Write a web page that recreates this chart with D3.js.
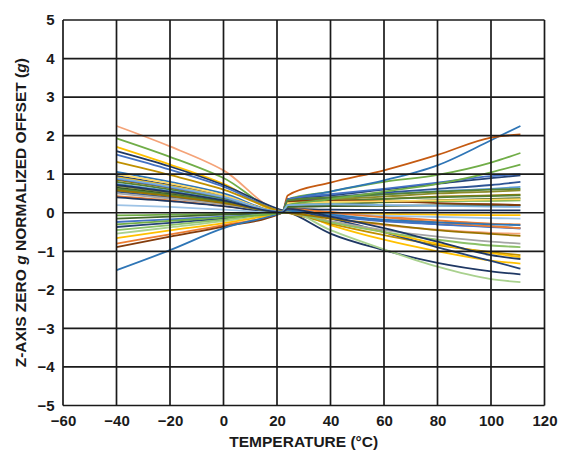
<!DOCTYPE html>
<html>
<head>
<meta charset="utf-8">
<script src="https://cdn.jsdelivr.net/npm/d3@7"></script>
<style>
  html, body { margin: 0; padding: 0; background: #fff; }
  svg { display: block; }
  text { font-family: "Liberation Sans", Arial, sans-serif; font-weight: bold; fill: #1a1a1a; }
</style>
</head>
<body>
<svg id="chart" width="568" height="454"></svg>
<script>
// Temperature sample points (°C) shared by every device trace.
// The cold sweep ends just below 22 °C; the hot sweep restarts near 24 °C.
const temps = [-40, -20, 0, 22, 24, 40, 60, 80, 100, 111];

// Axis ticks
const xTicks = [-60, -40, -20, 0, 20, 40, 60, 80, 100, 120];
const yTicks = [-5, -4, -3, -2, -1, 0, 1, 2, 3, 4, 5];

// Trace colours, one per device
const colors = [
  "#F4A378", "#70AD47", "#FFC000", "#1F3864", "#4472C4", "#BF9000",
  "#2E75B6", "#264478", "#FFC000", "#997300", "#548235", "#5B9BD5",
  "#8C8C2A", "#385723", "#C55A11", "#2F5597", "#ED7D31", "#203864",
  "#9DC3E6", "#70AD47", "#43682B", "#4472C4", "#264478", "#A9D18E",
  "#FFC000", "#ED7D31", "#843C0C", "#2E75B6", "#A5A5A5", "#8CC168",
  "#FFD966", "#4472C4", "#548235", "#997300", "#70AD47", "#7CAFDD",
  "#1F3864"
];

// Normalized zero-g offset (g) for each device at the temps above
const offsets = [
  [ 2.25,  1.72,  1.10, 0.06, 0.10, -0.15, -0.32, -0.44, -0.52, -0.54],
  [ 1.93,  1.45,  0.90, 0.05, 0.35,  0.55,  0.80,  0.98,  1.30,  1.55],
  [ 1.71,  1.25,  0.75, 0.04, 0.05, -0.32, -0.70, -1.00, -1.24, -1.32],
  [ 1.60,  1.20,  0.72, 0.06, 0.02, -0.54, -0.97, -1.30, -1.52, -1.60],
  [ 1.51,  1.12,  0.68, 0.04, 0.02, -0.10, -0.22, -0.30, -0.37, -0.41],
  [ 1.32,  0.98,  0.60, 0.03, 0.00, -0.28, -0.58, -0.84, -1.02, -1.10],
  [ 1.06,  0.80,  0.50, 0.02, 0.30,  0.55,  0.84,  1.23,  1.88,  2.25],
  [ 0.96,  0.72,  0.45, 0.02, 0.35,  0.45,  0.60,  0.75,  0.90,  0.97],
  [ 0.92,  0.70,  0.42, 0.02, 0.05,  0.00, -0.03, -0.05, -0.06, -0.06],
  [ 0.85,  0.64,  0.38, 0.02, 0.20,  0.30,  0.36,  0.42,  0.45,  0.47],
  [ 0.80,  0.60,  0.36, 0.02, 0.25,  0.30,  0.36,  0.40,  0.43,  0.45],
  [ 0.75,  0.56,  0.33, 0.01, 0.30,  0.38,  0.48,  0.56,  0.62,  0.67],
  [ 0.70,  0.52,  0.30, 0.01, 0.28,  0.35,  0.42,  0.50,  0.55,  0.58],
  [ 0.65,  0.48,  0.28, 0.01, 0.15,  0.17,  0.18,  0.19,  0.20,  0.20],
  [ 0.60,  0.45,  0.26, 0.01, 0.45,  0.78,  1.10,  1.50,  1.95,  2.03],
  [ 0.55,  0.40,  0.24, 0.01, 0.30,  0.40,  0.52,  0.62,  0.72,  0.80],
  [ 0.43,  0.32,  0.18, 0.01, 0.10,  0.02, -0.10, -0.20, -0.28, -0.30],
  [ 0.40,  0.30,  0.17, 0.01, 0.10,  0.08,  0.07,  0.06,  0.06,  0.06],
  [ 0.20,  0.15,  0.08, 0.00, 0.05, -0.03, -0.08, -0.11, -0.14, -0.15],
  [-0.07, -0.05, -0.03, 0.00, 0.20,  0.24,  0.27,  0.30,  0.31,  0.32],
  [-0.15, -0.10, -0.05, 0.00, 0.15,  0.20,  0.28,  0.33,  0.36,  0.38],
  [-0.24, -0.17, -0.10, 0.00, 0.05, -0.08, -0.20, -0.30, -0.36, -0.40],
  [-0.37, -0.26, -0.15, 0.00, 0.05, -0.15, -0.50, -0.90, -1.25, -1.45],
  [-0.54, -0.38, -0.22, 0.00, 0.02, -0.45, -0.95, -1.40, -1.72, -1.80],
  [-0.66, -0.46, -0.27, 0.00, 0.03, -0.22, -0.50, -0.80, -1.05, -1.15],
  [-0.80, -0.56, -0.32, 0.00, 0.10,  0.00, -0.12, -0.25, -0.35, -0.40],
  [-0.89, -0.62, -0.36, 0.00, 0.30,  0.32,  0.30,  0.25,  0.22,  0.20],
  [-1.49, -0.97, -0.40, 0.00, 0.05, -0.05, -0.18, -0.25, -0.30, -0.32],
  [ 0.50,  0.37,  0.22, 0.01, 0.00, -0.22, -0.45, -0.62, -0.75, -0.80],
  [-0.45, -0.32, -0.18, 0.00, 0.00, -0.25, -0.50, -0.70, -0.85, -0.89],
  [ 1.00,  0.76,  0.46, 0.02, 0.25,  0.28,  0.30,  0.32,  0.34,  0.35],
  [ 0.88,  0.66,  0.40, 0.02, 0.35,  0.48,  0.62,  0.78,  0.95,  1.00],
  [ 0.62,  0.46,  0.27, 0.01, 0.32,  0.40,  0.48,  0.55,  0.60,  0.62],
  [ 0.58,  0.43,  0.25, 0.01, 0.00, -0.15, -0.30, -0.45, -0.55, -0.60],
  [-0.30, -0.21, -0.12, 0.00, 0.20,  0.35,  0.55,  0.75,  1.05,  1.25],
  [ 0.90,  0.68,  0.41, 0.02, 0.20,  0.22,  0.20,  0.18,  0.16,  0.15],
  [ 0.72,  0.54,  0.32, 0.01, 0.10, -0.10, -0.40, -0.75, -1.10, -1.20]
];

const svg = d3.select("#chart");
const margin = { left: 63, top: 20, right: 23.5, bottom: 48.5 };
const W = 568 - margin.left - margin.right;
const H = 454 - margin.top - margin.bottom;

const x = d3.scaleLinear().domain([-60, 120]).range([0, W]);
const y = d3.scaleLinear().domain([-5, 5]).range([H, 0]);

const g = svg.append("g").attr("transform", `translate(${margin.left},${margin.top})`);

// Device traces
const line = d3.line()
  .x((d, i) => x(temps[i]))
  .y(d => y(d))
  .curve(d3.curveMonotoneX);

g.append("g").attr("class", "traces")
  .selectAll("path")
  .data(offsets)
  .join("path")
  .attr("d", line)
  .attr("fill", "none")
  .attr("stroke", (d, i) => colors[i % colors.length])
  .attr("stroke-width", 1.8)
  .attr("stroke-linejoin", "round");

// Grid drawn over the traces
const gridColor = "#1a1a1a";
g.append("g").attr("class", "grid-x")
  .selectAll("line").data(xTicks).join("line")
  .attr("x1", d => x(d)).attr("x2", d => x(d))
  .attr("y1", 0).attr("y2", H)
  .attr("stroke", gridColor).attr("stroke-width", 1.7);
g.append("g").attr("class", "grid-y")
  .selectAll("line").data(yTicks).join("line")
  .attr("x1", 0).attr("x2", W)
  .attr("y1", d => y(d)).attr("y2", d => y(d))
  .attr("stroke", gridColor).attr("stroke-width", 1.7);

// Axes (labels only; the grid frames the plot)
const fmt = d => d < 0 ? "\u2212" + Math.abs(d) : String(d);
const xAxis = g.append("g").attr("transform", `translate(0,${H})`)
  .call(d3.axisBottom(x).tickValues(xTicks).tickFormat(fmt).tickSize(0).tickPadding(10));
const yAxis = g.append("g")
  .call(d3.axisLeft(y).tickValues(yTicks).tickFormat(fmt).tickSize(0).tickPadding(8.5));
[xAxis, yAxis].forEach(a => {
  a.select(".domain").remove();
  a.selectAll("text")
    .attr("font-family", "'Liberation Sans', Arial, sans-serif")
    .attr("font-weight", "bold")
    .attr("font-size", 15)
    .attr("fill", "#1a1a1a");
});

// Axis titles
svg.append("text")
  .attr("x", margin.left + W / 2)
  .attr("y", 447)
  .attr("text-anchor", "middle")
  .attr("font-size", 15.5)
  .text("TEMPERATURE (°C)");

const yTitle = svg.append("text")
  .attr("transform", `translate(26,${margin.top + H / 2}) rotate(-90)`)
  .attr("text-anchor", "middle")
  .attr("font-size", 15.5);
yTitle.append("tspan").text("Z-AXIS ZERO ");
yTitle.append("tspan").attr("font-style", "italic").text("g");
yTitle.append("tspan").text(" NORMALIZED OFFSET (");
yTitle.append("tspan").attr("font-style", "italic").text("g");
yTitle.append("tspan").text(")");
</script>
</body>
</html>
